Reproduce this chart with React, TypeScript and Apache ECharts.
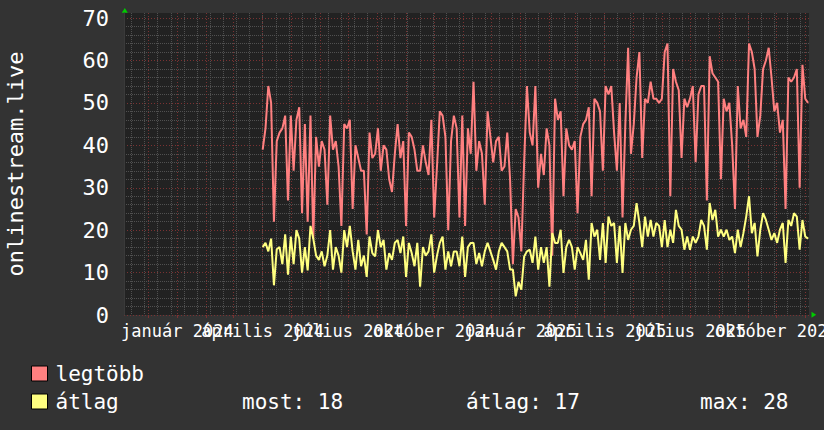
import React, { useEffect, useRef } from "react";
import * as echarts from "echarts";

const FONT = "'DejaVu Sans Mono', monospace";

// time axis: one category per day, 2023-11-05 .. 2025-11-05
const AXIS_START_UTC = Date.UTC(2023, 10, 5);
const AXIS_DAY_COUNT = 732;
// measurements start 2024-04-01 and are sampled every 3 days
const DATA_START_DAY = 148;
const STEP_DAYS = 3;
// minor vertical grid: every second Monday, first on 2023-11-13
const MINOR_GRID_FIRST_DAY = 8;
const MINOR_GRID_EVERY = 14;

const HU_MONTHS = [
  "január", "február", "március", "április", "május", "június",
  "július", "augusztus", "szeptember", "október", "november", "december",
];
const LABEL_MONTHS = ["01", "04", "07", "10"];

const Y_MIN = 0;
const Y_MAX = 71.2;
const Y_MAJOR = 10;
const Y_MINOR = 2;

const seriesNames = ["legtöbb", "átlag"];
const seriesColors = ["#ff8080", "#ffff80"];

const maxValues = [
  39, 44, 54, 50, 22, 41, 43, 44, 47, 27,
  47, 34, 46, 49, 24, 45, 22, 47, 18, 42,
  35, 41, 39, 26, 47, 39, 41, 35, 21, 45,
  44, 46, 25, 40, 37, 34, 34, 19, 43, 37,
  38, 44, 34, 40, 39, 32, 29, 38, 45, 37,
  41, 21, 43, 42, 39, 34, 34, 40, 36, 33,
  46, 23, 35, 48, 47, 42, 20, 41, 47, 44,
  23, 47, 21, 44, 38, 55, 34, 41, 38, 26,
  48, 42, 36, 41, 42, 34, 35, 43, 32, 12,
  25, 23, 15, 36, 54, 43, 40, 54, 30, 38,
  33, 44, 40, 14, 51, 46, 48, 28, 44, 40,
  39, 41, 24, 42, 45, 46, 49, 28, 51, 50,
  48, 34, 54, 52, 54, 43, 34, 50, 23, 45,
  63, 38, 45, 56, 62, 37, 51, 50, 55, 51,
  51, 50, 51, 62, 64, 28, 58, 55, 53, 37,
  51, 49, 51, 54, 36, 52, 54, 54, 27, 61,
  57, 56, 55, 32, 51, 48, 50, 40, 25, 54,
  44, 46, 42, 64, 62, 58, 42, 47, 58, 60,
  63, 56, 48, 50, 43, 46, 25, 56, 55, 56,
  58, 30, 59, 51, 50,
];

const avgValues = [
  16, 17, 15, 18, 7, 15.5, 16, 12, 19, 9.5,
  18.5, 12, 20, 18, 10, 16, 10.5, 21, 18, 14,
  13, 15, 11.5, 14, 20, 10.7, 16, 14, 10, 20,
  16, 21, 15, 10.7, 17.7, 11.5, 14, 9, 18.5, 14.6,
  13.8, 20, 16, 17.7, 10.7, 14.6, 13, 17, 17.7, 14.6,
  18.5, 9, 17, 14.6, 11.5, 17, 6.7, 16, 14, 15,
  19, 10, 14, 17, 18.5, 10.7, 15, 11.5, 15, 15,
  11.5, 18.5, 9, 16, 17, 17, 12, 14.6, 11.5, 15,
  17, 15, 13, 10.7, 15, 17, 16, 15, 10.7, 10.7,
  4.4, 7.8, 6, 13.8, 15, 15.4, 12.3, 18.5, 10.7, 16,
  12.3, 16, 6.7, 19.3, 17, 17, 20.1, 9.9, 16, 17.7,
  16, 10.7, 16, 14.6, 13, 17.7, 8.3, 21.7, 18.5, 20.1,
  13, 21.7, 12.3, 23.2, 21, 21.7, 12.3, 21, 9.9, 21.7,
  17.7, 20.1, 21, 26.4, 21.7, 16, 23.2, 18.5, 22.4, 18.5,
  21.7, 21, 16, 22.4, 16, 20.1, 17, 24.8, 21, 20.1,
  15.4, 18.5, 15.4, 18.5, 17, 18.5, 22.4, 21, 15.4, 26.4,
  22.4, 24.8, 18.5, 20.1, 18.5, 20.1, 17.7, 18.5, 14.6, 20.1,
  16, 19.3, 23.2, 28, 19.3, 21.7, 13.8, 20.1, 24, 22.4,
  20.1, 17.7, 19.3, 17, 20.1, 21.7, 12.3, 22.4, 21, 24,
  23.2, 15.4, 22.4, 18.5, 18,
];

const statLabels = ["most", "átlag", "max"];
const statValues = [18, 17, 28];

function buildDays(): string[] {
  const out: string[] = [];
  for (let i = 0; i < AXIS_DAY_COUNT; i++) {
    out.push(new Date(AXIS_START_UTC + i * 86400000).toISOString().slice(0, 10));
  }
  return out;
}

function toPairs(values: number[]): [number, number][] {
  return values.map((v, i) => [DATA_START_DAY + i * STEP_DAYS, v]);
}

export default function App() {
  const ref = useRef<HTMLDivElement>(null);

  useEffect(() => {
    if (!ref.current) return;
    const chart = echarts.init(ref.current, null, { renderer: "svg" });
    const days = buildDays();
    const lastIndex = days.length - 1;
    const isMonthStart = (v: string) => v.slice(8, 10) === "01";
    const isQuarterStart = (v: string) => isMonthStart(v) && LABEL_MONTHS.includes(v.slice(5, 7));

    const textColor = "#ffffff";
    const majorColor = "#7a3232";
    const minorColor = "#505050";

    const statX = [242, 466, 700];

    chart.setOption({
      animation: false,
      backgroundColor: "#333333",
      grid: {
        left: 124,
        right: 15,
        top: 13,
        bottom: 115,
        show: true,
        backgroundColor: "#222222",
        borderWidth: 0,
        containLabel: false,
        outerBoundsMode: "none",
      },
      legend: {
        orient: "vertical",
        left: 31,
        top: 363,
        padding: 0,
        itemWidth: 16,
        itemHeight: 15,
        itemGap: 7,
        icon: "rect",
        selectedMode: false,
        itemStyle: { borderColor: "#000000", borderWidth: 1 },
        textStyle: { color: textColor, fontSize: 21, fontFamily: FONT, padding: [0, 0, 0, 3] },
        data: seriesNames,
      },
      xAxis: [
        {
          type: "category",
          data: days,
          boundaryGap: false,
          z: 2,
          axisLine: { show: false },
          axisTick: {
            show: true,
            interval: (_i: number, v: string) => isMonthStart(v),
            length: 3,
            lineStyle: { color: majorColor },
          },
          axisLabel: {
            // the empty end labels keep the quarterly labels from being auto-hidden
            interval: (i: number, v: string) => i === 0 || i === lastIndex || isQuarterStart(v),
            formatter: (v: string) =>
              isQuarterStart(v) ? `${HU_MONTHS[parseInt(v.slice(5, 7), 10) - 1]} ${v.slice(0, 4)}` : "",
            color: textColor,
            fontFamily: FONT,
            fontSize: 17,
            margin: 7,
            hideOverlap: false,
          },
          splitLine: {
            show: true,
            interval: (_i: number, v: string) => isMonthStart(v),
            lineStyle: { color: majorColor, type: [1, 2], width: 1 },
          },
        },
        {
          type: "category",
          data: days,
          boundaryGap: false,
          position: "bottom",
          z: 1,
          axisLine: { show: false },
          axisTick: { show: false },
          axisLabel: { show: false },
          splitLine: {
            show: true,
            interval: (i: number) => i >= MINOR_GRID_FIRST_DAY && (i - MINOR_GRID_FIRST_DAY) % MINOR_GRID_EVERY === 0,
            lineStyle: { color: minorColor, type: [1, 1], width: 1 },
          },
        },
      ],
      yAxis: [
        {
          type: "value",
          min: Y_MIN,
          max: Y_MAX,
          interval: Y_MAJOR,
          z: 2,
          name: "onlinestream.live",
          nameLocation: "middle",
          nameRotate: 90,
          nameGap: 98,
          nameTextStyle: { color: textColor, fontSize: 22, fontFamily: FONT },
          axisLine: { show: true, lineStyle: { color: "#3a3a3a", width: 1 } },
          axisTick: { show: false },
          axisLabel: {
            color: textColor,
            fontSize: 22,
            fontFamily: FONT,
            margin: 15,
            showMaxLabel: false,
          },
          splitLine: {
            show: true,
            showMaxLine: false,
            lineStyle: { color: majorColor, type: [1, 2], width: 1 },
          },
        },
        {
          type: "value",
          min: Y_MIN,
          max: Y_MAX,
          interval: Y_MINOR,
          z: 1,
          position: "left",
          axisLine: { show: false },
          axisTick: { show: false },
          axisLabel: { show: false },
          splitLine: {
            show: true,
            showMaxLine: false,
            lineStyle: {
              color: ["rgba(0,0,0,0)", minorColor, minorColor, minorColor, minorColor],
              type: [1, 1],
              width: 1,
            },
          },
        },
      ],
      series: [
        {
          name: seriesNames[0],
          type: "line",
          xAxisIndex: 0,
          yAxisIndex: 0,
          data: toPairs(maxValues),
          showSymbol: false,
          symbol: "none",
          color: seriesColors[0],
          itemStyle: { color: seriesColors[0] },
          lineStyle: { color: seriesColors[0], width: 2 },
          z: 3,
        },
        {
          name: seriesNames[1],
          type: "line",
          xAxisIndex: 0,
          yAxisIndex: 0,
          data: toPairs(avgValues),
          showSymbol: false,
          symbol: "none",
          color: seriesColors[1],
          itemStyle: { color: seriesColors[1] },
          lineStyle: { color: seriesColors[1], width: 2 },
          z: 4,
        },
      ],
      graphic: [
        {
          type: "polygon",
          shape: { points: [[121.8, 12.8], [127.8, 12.8], [124.8, 8]] },
          style: { fill: "#00cc00" },
        },
        {
          type: "polygon",
          shape: { points: [[811.5, 311.8], [811.5, 317.8], [816.2, 314.8]] },
          style: { fill: "#00cc00" },
        },
        ...statLabels.map((label, i) => ({
          type: "text",
          x: statX[i],
          y: 402,
          style: {
            text: `${label}: ${statValues[i]}`,
            fill: textColor,
            fontSize: 21,
            fontFamily: FONT,
            verticalAlign: "middle",
            align: "left",
          },
        })),
      ],
    });

    return () => {
      chart.dispose();
    };
  }, []);

  return (
    <div
      ref={ref}
      style={{ position: "absolute", left: 0, top: 0, width: 824, height: 430 }}
    />
  );
}
